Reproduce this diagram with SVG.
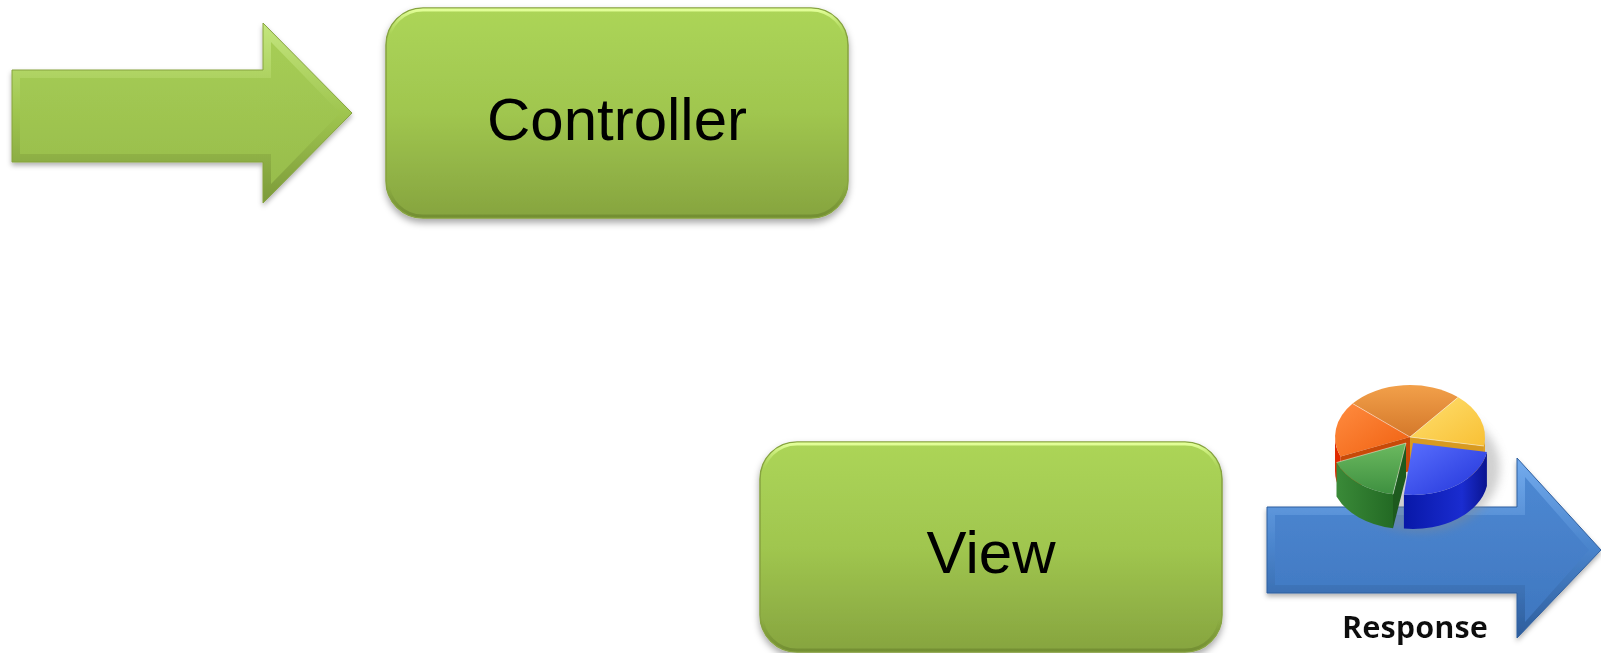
<svg xmlns="http://www.w3.org/2000/svg" width="1601" height="653" viewBox="0 0 1601 653">
  <defs>
    <style>
      .lbl { font-family: "Liberation Sans", Arial, sans-serif; font-size: 60px; fill: #000; text-anchor: middle; }
      .resp { font-family: "Open Sans", "Liberation Sans", sans-serif; font-weight: bold; font-size: 30px; fill: #111; text-anchor: middle; }
      .box { fill: url(#boxFill); stroke: #86a33f; stroke-width: 1.5; filter: url(#shadow); }
      .boxHi { fill: none; stroke: url(#boxEdge); stroke-width: 3; }
      .sep { stroke: #ffffff; stroke-opacity: 0.45; stroke-width: 1; }
    </style>
    <linearGradient id="boxFill" x1="0" y1="0" x2="0" y2="1">
      <stop offset="0" stop-color="#acd558"/>
      <stop offset="0.5" stop-color="#a0c64f"/>
      <stop offset="1" stop-color="#86a43f"/>
    </linearGradient>
    <linearGradient id="boxEdge" x1="0" y1="0" x2="0" y2="1">
      <stop offset="0" stop-color="#e2ff98" stop-opacity="1"/>
      <stop offset="0.12" stop-color="#c8ec7a" stop-opacity="0"/>
      <stop offset="0.85" stop-color="#6f8a30" stop-opacity="0"/>
      <stop offset="1" stop-color="#6f8a30" stop-opacity="0.8"/>
    </linearGradient>
    <linearGradient id="gArrowOuter" x1="0" y1="0" x2="0" y2="1">
      <stop offset="0" stop-color="#c4e67e"/>
      <stop offset="0.5" stop-color="#9fc54f"/>
      <stop offset="1" stop-color="#7c9a3a"/>
    </linearGradient>
    <linearGradient id="gArrowInner" x1="0" y1="0" x2="0" y2="1">
      <stop offset="0" stop-color="#a6cd55"/>
      <stop offset="1" stop-color="#98bd4c"/>
    </linearGradient>
    <linearGradient id="bArrowOuter" x1="0" y1="0" x2="0" y2="1">
      <stop offset="0" stop-color="#74acee"/>
      <stop offset="0.5" stop-color="#4a84cc"/>
      <stop offset="1" stop-color="#2d5d9c"/>
    </linearGradient>
    <linearGradient id="bArrowInner" x1="0" y1="0" x2="0" y2="1">
      <stop offset="0" stop-color="#4d88d2"/>
      <stop offset="1" stop-color="#3f77c0"/>
    </linearGradient>
    <linearGradient id="pBrown" x1="0" y1="0" x2="0" y2="1">
      <stop offset="0" stop-color="#f2a04a"/>
      <stop offset="1" stop-color="#d4782a"/>
    </linearGradient>
    <linearGradient id="pYellow" x1="0" y1="0" x2="1" y2="1">
      <stop offset="0" stop-color="#ffe070"/>
      <stop offset="1" stop-color="#f8c035"/>
    </linearGradient>
    <linearGradient id="pBlue" x1="0" y1="0" x2="1" y2="1">
      <stop offset="0" stop-color="#5a70ff"/>
      <stop offset="1" stop-color="#2234d8"/>
    </linearGradient>
    <linearGradient id="pBlueSide" x1="0" y1="0" x2="1" y2="0">
      <stop offset="0" stop-color="#0818a8"/>
      <stop offset="0.7" stop-color="#1a2cd0"/>
      <stop offset="1" stop-color="#0a1490"/>
    </linearGradient>
    <linearGradient id="pGreen" x1="0" y1="0" x2="0" y2="1">
      <stop offset="0" stop-color="#6cba60"/>
      <stop offset="1" stop-color="#3e9040"/>
    </linearGradient>
    <linearGradient id="pGreenSide" x1="0" y1="0" x2="1" y2="0">
      <stop offset="0" stop-color="#3a8a38"/>
      <stop offset="1" stop-color="#236a24"/>
    </linearGradient>
    <linearGradient id="pOrange" x1="0" y1="0" x2="1" y2="1">
      <stop offset="0" stop-color="#ff8c40"/>
      <stop offset="1" stop-color="#f06010"/>
    </linearGradient>
    <filter id="shadow" x="-10%" y="-10%" width="120%" height="130%">
      <feDropShadow dx="0" dy="4" stdDeviation="3.5" flood-color="#000" flood-opacity="0.35"/>
    </filter>
    <filter id="ashadow" x="-10%" y="-10%" width="120%" height="130%">
      <feDropShadow dx="0" dy="3" stdDeviation="2.5" flood-color="#000" flood-opacity="0.3"/>
    </filter>
    <filter id="blur" x="-30%" y="-30%" width="160%" height="160%">
      <feGaussianBlur stdDeviation="5"/>
    </filter>
    <filter id="glow" x="-10%" y="-30%" width="120%" height="160%">
      <feDropShadow dx="0" dy="0" stdDeviation="2" flood-color="#ffffff" flood-opacity="0.9"/>
    </filter>
  </defs>

  <rect width="1601" height="653" fill="#ffffff"/>

  <g id="connectors">
    <g id="request-arrow" filter="url(#ashadow)">
      <polygon points="12,70 263,70 263,23 352,113 263,203 263,162 12,162" fill="url(#gArrowOuter)" stroke="#86a33f" stroke-width="1"/>
      <polygon points="20,78 271,78 271,42 340,113 271,184 271,154 20,154" fill="url(#gArrowInner)"/>
    </g>
  </g>

  <g id="controller">
    <rect class="box" x="386" y="8" width="462" height="210" rx="37" ry="37"/>
    <rect class="boxHi" x="388" y="10" width="458" height="206" rx="35" ry="35"/>
    <text class="lbl" x="617" y="140">Controller</text>
  </g>

  <g id="view">
    <rect class="box" x="760" y="442" width="462" height="210" rx="37" ry="37"/>
    <rect class="boxHi" x="762" y="444" width="458" height="206" rx="35" ry="35"/>
    <text class="lbl" x="991" y="573">View</text>
  </g>

  <g id="response">
    <g filter="url(#ashadow)">
      <polygon points="1267,507 1517,507 1517,458 1601,550 1517,638 1517,593 1267,593" fill="url(#bArrowOuter)" stroke="#2f5f9f" stroke-width="1"/>
      <polygon points="1275,515 1525,515 1525,477 1589,550 1525,622 1525,585 1275,585" fill="url(#bArrowInner)"/>
    </g>
    <g id="pie-chart">
      <ellipse cx="1420" cy="468" rx="80" ry="64" fill="#8a8a8a" opacity="0.4" filter="url(#blur)"/>
      <!-- orange-brown top slice -->
      <path d="M1410,437 L1352.6,403.6 A75,52 0 0,1 1458.2,397.2 Z" fill="url(#pBrown)"/>
      <!-- yellow slice -->
      <path d="M1410,437 L1483.9,446 L1483.9,480 L1410,471 Z" fill="#d89a20"/>
      <path d="M1485,437 A75,52 0 0,1 1483.9,446 L1483.9,480 A75,52 0 0,0 1485,471 Z" fill="#e0a020"/>
      <path d="M1410,437 L1458.2,397.2 A75,52 0 0,1 1483.9,446 Z" fill="url(#pYellow)"/>
      <!-- orange left slice -->
      <path d="M1410,437 L1340.5,456.5 L1340.5,490.5 L1410,471 Z" fill="#c84a08"/>
      <path d="M1340.5,456.5 A75,52 0 0,1 1335,437 L1335,471 A75,52 0 0,0 1340.5,490.5 Z" fill="#e02a00"/>
      <path d="M1410,437 L1340.5,456.5 A75,52 0 0,1 1352.6,403.6 Z" fill="url(#pOrange)"/>
      <!-- blue slice -->
      <path d="M1486.9,452 A75,52 0 0,1 1403.9,494.6 L1403.9,528.6 A75,52 0 0,0 1486.9,486 Z" fill="url(#pBlueSide)"/>
      <path d="M1413,443 L1486.9,452 A75,52 0 0,1 1403.9,494.6 Z" fill="url(#pBlue)"/>
      <!-- green slice -->
      <path d="M1406,443 L1393,494.2 L1393,528.2 L1406,477 Z" fill="#1d5a1e"/>
      <path d="M1393,494.2 A75,52 0 0,1 1336.5,462.5 L1336.5,496.5 A75,52 0 0,0 1393,528.2 Z" fill="url(#pGreenSide)"/>
      <path d="M1406,443 L1393,494.2 A75,52 0 0,1 1336.5,462.5 Z" fill="url(#pGreen)"/>
      <!-- separator highlights -->
      <path class="sep" d="M1410,437 L1352.6,403.6 M1410,437 L1458.2,397.2 M1410,437 L1483.9,446 M1406,443 L1336.5,462.5 M1406,443 L1393,494.2" fill="none"/>
    </g>
    <text class="resp" x="1415" y="638" textLength="146" lengthAdjust="spacingAndGlyphs" filter="url(#glow)">Response</text>
  </g>
</svg>
